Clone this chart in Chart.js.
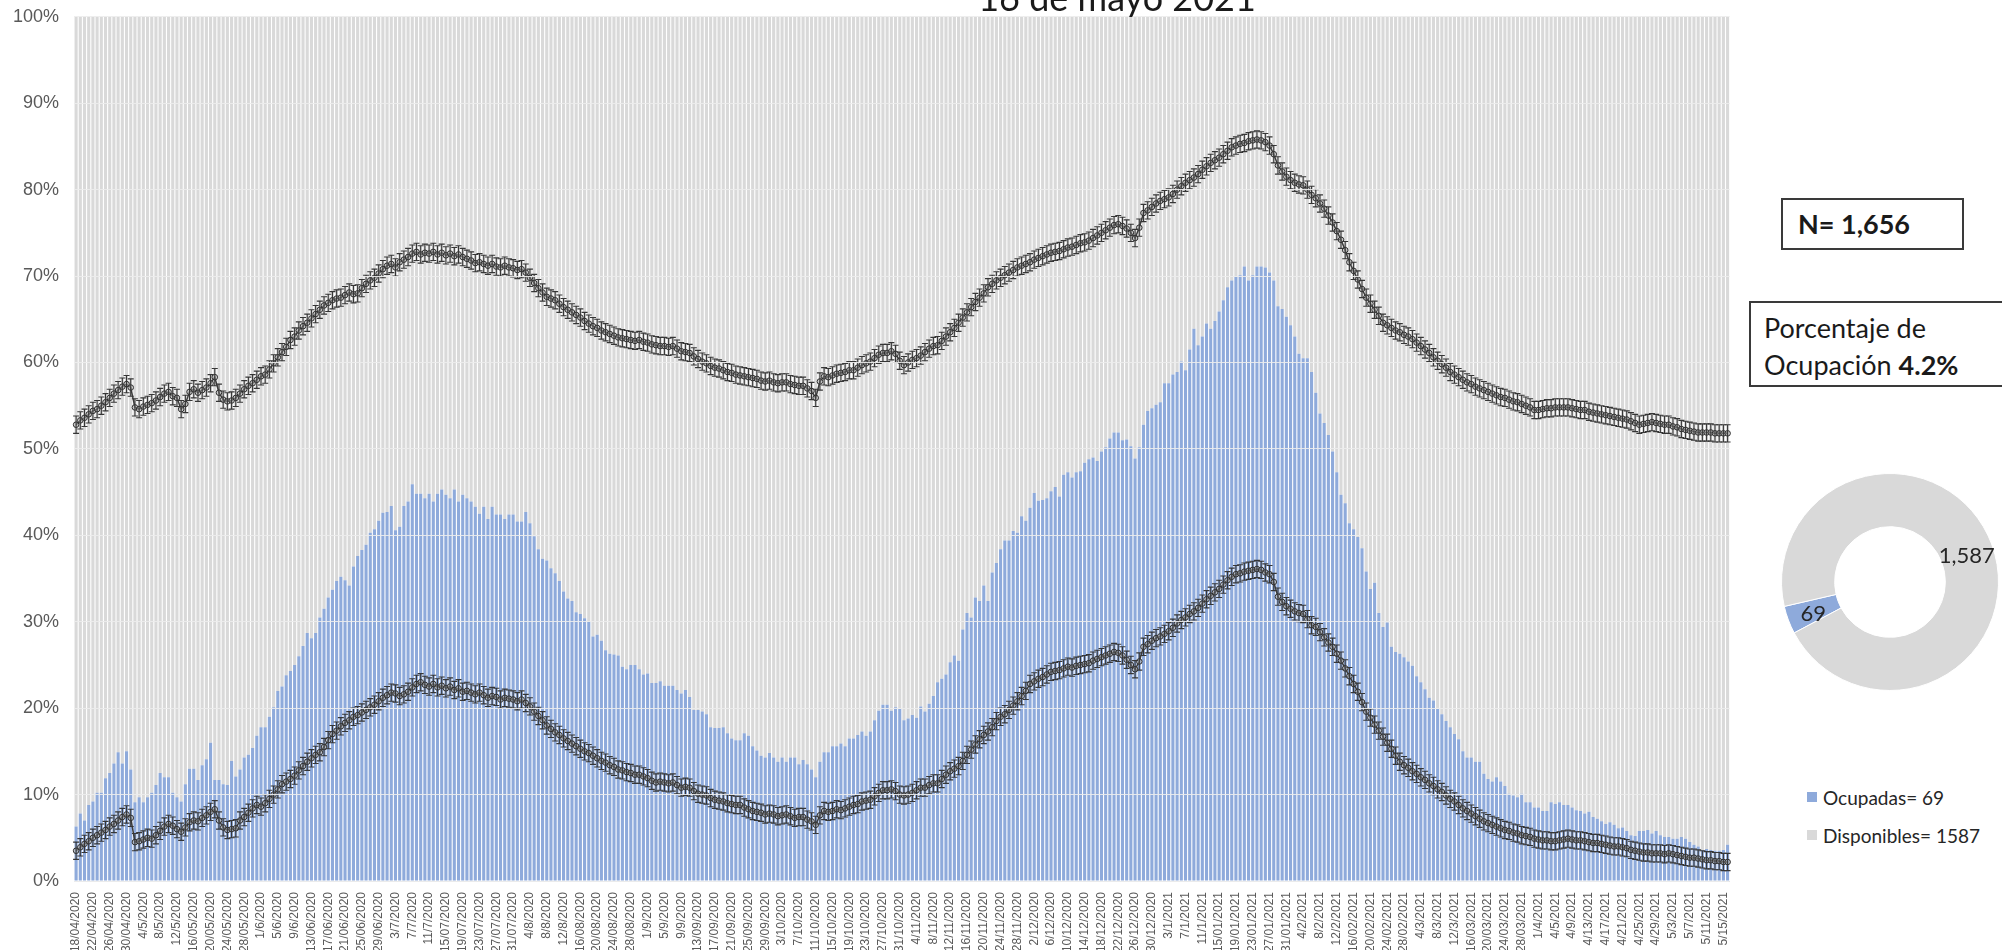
<!DOCTYPE html>
<html lang="es">
<head>
<meta charset="utf-8">
<script src="https://cdn.jsdelivr.net/npm/chart.js@4.4.1/dist/chart.umd.min.js"></script>
<style>
  html, body { margin: 0; padding: 0; background: #fff; }
  body { width: 2002px; height: 950px; position: relative; overflow: hidden; font-family: Lato, "Liberation Sans", sans-serif; color: #1a1a1a; }
  #main { position: absolute; left: 0; top: -9px; }
  #pie { position: absolute; left: 1760px; top: 440px; }
  .title { position: absolute; left: 917px; top: -21px; width: 400px; text-align: center; font-size: 36px; line-height: 36px; color: #1a1a1a; }
  .box { position: absolute; border: 2px solid #3a3a3a; background: #fff; box-sizing: border-box; }
  #nBox { left: 1781px; top: 198px; width: 183px; height: 52px; font-size: 27px; font-weight: 700; line-height: 48px; padding-left: 15px; }
  #pctBox { left: 1749px; top: 301px; width: 270px; height: 86px; font-size: 27px; line-height: 37px; padding: 6px 0 0 13px; }
  .leg { position: absolute; left: 1807px; height: 24px; display: flex; align-items: center; font-size: 19px; color: #262626; }
  .sw { width: 10px; height: 10px; margin-right: 6px; }
</style>
</head>
<body>
<canvas id="main" width="1745" height="959"></canvas>
<div class="title">16 de mayo 2021</div>
<div class="box" id="nBox"></div>
<div class="box" id="pctBox"></div>
<canvas id="pie" width="242" height="290"></canvas>
<div class="leg" id="legOcu" style="top:785px"><span class="sw" style="background:#8eaadb"></span><span></span></div>
<div class="leg" id="legDis" style="top:823px"><span class="sw" style="background:#d9d9d9"></span><span></span></div>
<script>
// -------- DATA --------
// one label every 4 days, first day 18/04/2020
const tickLabels = [
    "18/04/2020", "22/04/2020", "26/04/2020", "30/04/2020", "4/5/2020", "8/5/2020", "12/5/2020", "16/05/2020",
    "20/05/2020", "24/05/2020", "28/05/2020", "1/6/2020", "5/6/2020", "9/6/2020", "13/06/2020", "17/06/2020",
    "21/06/2020", "25/06/2020", "29/06/2020", "3/7/2020", "7/7/2020", "11/7/2020", "15/07/2020", "19/07/2020",
    "23/07/2020", "27/07/2020", "31/07/2020", "4/8/2020", "8/8/2020", "12/8/2020", "16/08/2020", "20/08/2020",
    "24/08/2020", "28/08/2020", "1/9/2020", "5/9/2020", "9/9/2020", "13/09/2020", "17/09/2020", "21/09/2020",
    "25/09/2020", "29/09/2020", "3/10/2020", "7/10/2020", "11/10/2020", "15/10/2020", "19/10/2020", "23/10/2020",
    "27/10/2020", "31/10/2020", "4/11/2020", "8/11/2020", "12/11/2020", "16/11/2020", "20/11/2020", "24/11/2020",
    "28/11/2020", "2/12/2020", "6/12/2020", "10/12/2020", "14/12/2020", "18/12/2020", "22/12/2020", "26/12/2020",
    "30/12/2020", "3/1/2021", "7/1/2021", "11/1/2021", "15/01/2021", "19/01/2021", "23/01/2021", "27/01/2021",
    "31/01/2021", "4/2/2021", "8/2/2021", "12/2/2021", "16/02/2021", "20/02/2021", "24/02/2021", "28/02/2021",
    "4/3/2021", "8/3/2021", "12/3/2021", "16/03/2021", "20/03/2021", "24/03/2021", "28/03/2021", "1/4/2021",
    "4/5/2021", "4/9/2021", "4/13/2021", "4/17/2021", "4/21/2021", "4/25/2021", "4/29/2021", "5/3/2021",
    "5/7/2021", "5/11/2021", "5/15/2021"
];

// % camas ocupadas, daily
const ocupadas = [
    6.3, 7.8, 7.0, 8.8, 9.2, 10.2, 10.2, 11.9, 12.5, 13.6, 14.9, 13.6, 15.0, 12.9,
    9.1, 9.7, 9.1, 9.7, 10.2, 11.1, 12.5, 12.0, 12.0, 10.2,
    9.7, 9.2, 11.2, 13.0, 13.0, 11.7, 13.4, 14.1, 16.0, 11.7,
    11.7, 11.2, 11.1, 13.9, 12.1, 12.9, 14.3, 14.6, 15.4, 16.8,
    17.8, 17.8, 19.0, 20.1, 22.0, 22.5, 23.8, 24.3, 25.0, 26.0,
    27.2, 28.7, 28.1, 28.7, 30.5, 31.5, 32.8, 33.7, 34.7, 35.2,
    34.8, 34.2, 36.4, 37.6, 38.3, 38.9, 40.3, 40.7, 41.7, 42.6,
    42.7, 43.4, 40.6, 41.0, 43.4, 43.9, 45.9, 44.8, 44.8, 44.3,
    44.8, 43.9, 44.8, 45.3, 44.7, 44.3, 45.3, 43.9, 44.7, 44.3,
    43.9, 43.3, 42.5, 43.3, 41.9, 43.3, 42.4, 42.4, 41.9, 42.4,
    42.4, 41.6, 41.6, 42.7, 41.4, 39.9, 38.4, 37.3, 37.1, 36.2,
    35.6, 34.7, 33.5, 32.7, 32.4, 31.1, 30.9, 30.4, 30.0, 28.3,
    28.5, 27.8, 26.7, 26.3, 26.2, 26.1, 24.8, 24.5, 25.0, 25.0,
    24.5, 23.9, 24.0, 22.9, 22.9, 23.1, 22.6, 22.6, 22.6, 22.1,
    21.7, 22.1, 21.3, 19.8, 19.8, 19.6, 19.3, 17.8, 17.7, 17.7,
    17.8, 17.1, 16.5, 16.3, 16.3, 17.1, 16.8, 15.6, 15.1, 14.5,
    14.3, 14.8, 14.3, 13.8, 14.3, 13.8, 14.3, 14.3, 13.5, 14.0,
    13.5, 12.9, 12.0, 13.8, 14.9, 14.9, 15.6, 15.6, 15.9, 15.6,
    16.5, 16.5, 16.9, 17.3, 16.8, 17.3, 18.6, 19.7, 20.4, 20.4,
    19.7, 20.1, 19.9, 18.6, 18.8, 19.2, 18.9, 20.2, 19.6, 20.5,
    21.4, 23.0, 23.4, 23.9, 25.3, 26.1, 25.5, 29.1, 31.0, 30.5,
    32.8, 32.4, 34.2, 32.4, 35.7, 36.8, 38.4, 39.4, 39.4, 40.5,
    40.3, 42.2, 41.7, 43.2, 44.9, 44.0, 44.1, 44.3, 45.1, 45.6,
    44.5, 47.0, 47.3, 46.7, 47.3, 47.4, 48.4, 48.8, 49.0, 48.6,
    49.7, 50.2, 51.2, 51.9, 51.9, 51.0, 51.1, 50.3, 48.9, 50.2,
    52.8, 54.4, 54.7, 55.1, 55.4, 57.6, 57.6, 58.6, 58.9, 60.1,
    59.1, 61.5, 63.9, 62.0, 63.0, 64.5, 63.9, 64.8, 65.9, 67.2,
    68.7, 69.5, 69.9, 70.1, 71.1, 69.5, 70.1, 71.1, 71.1, 71.0,
    70.4, 69.5, 66.5, 66.2, 65.3, 64.3, 63.0, 61.0, 60.5, 60.5,
    58.9, 56.5, 54.1, 53.0, 51.6, 49.7, 47.3, 44.7, 43.7, 41.4,
    40.7, 39.8, 38.5, 35.8, 33.8, 34.5, 31.0, 29.4, 29.9, 27.1,
    26.5, 26.3, 25.9, 25.4, 24.9, 23.7, 23.0, 22.2, 21.2, 20.9,
    19.9, 19.3, 18.5, 17.8, 17.0, 16.4, 15.0, 14.3, 14.3, 13.8,
    13.8, 12.4, 11.8, 11.5, 12.0, 11.5, 11.0, 10.1, 9.9, 9.7,
    10.1, 9.1, 9.1, 8.5, 8.5, 8.1, 8.1, 9.1, 8.9, 9.1,
    8.8, 8.8, 8.5, 8.2, 8.1, 7.8, 8.0, 7.4, 7.2, 6.9,
    6.6, 6.8, 6.5, 6.1, 6.2, 5.8, 5.3, 5.2, 5.8, 5.8,
    5.9, 5.5, 5.8, 5.3, 5.1, 5.1, 4.9, 4.9, 5.1, 4.9,
    4.5, 4.2, 4.0, 3.6, 3.7, 3.6, 3.5, 3.5, 3.6, 4.2
];

// upper curve with error bars (%)
const bandaSuperior = [
    52.8, 53.3, 53.6, 54.0, 54.4, 54.6, 55.0, 55.4, 55.9, 56.4, 56.8, 57.2, 57.5, 57.1,
    54.8, 54.6, 54.9, 55.1, 55.3, 55.6, 56.0, 56.4, 56.6, 56.1,
    55.9, 54.6, 55.2, 56.6, 56.9, 56.5, 56.8, 57.1, 57.6, 58.3,
    56.5, 55.7, 55.5, 55.6, 55.9, 56.4, 56.9, 57.3, 57.6, 58.0,
    58.4, 58.6, 59.2, 59.9, 60.6, 61.2, 61.8, 62.6, 63.0, 63.7,
    64.2, 64.6, 65.1, 65.6, 66.1, 66.6, 66.9, 67.2, 67.4, 67.5,
    67.8, 68.1, 67.9, 68.0, 68.6, 69.1, 69.5, 69.8, 70.3, 70.8,
    71.2, 71.4, 71.0, 71.6, 71.9, 72.2, 72.6, 72.8, 72.5, 72.7,
    72.6, 72.8, 72.5, 72.7, 72.4, 72.6, 72.3, 72.5, 72.2, 72.0,
    71.8, 71.5, 71.6, 71.4, 71.2, 71.4, 71.1, 71.0, 71.2, 71.0,
    70.9, 70.7, 70.8, 70.4, 69.8, 69.2, 68.6, 68.1, 67.6, 67.4,
    67.2, 66.8, 66.4, 66.1, 65.8, 65.5, 65.2, 64.8, 64.5, 64.2,
    64.0, 63.7, 63.5, 63.3, 63.1, 62.9, 62.8, 62.7, 62.6, 62.5,
    62.6, 62.4, 62.3, 62.1, 62.0, 61.9, 61.9, 61.8, 61.9, 61.6,
    61.3, 61.2, 61.1, 60.7, 60.4, 60.1, 59.9, 59.6, 59.4, 59.3,
    59.1, 58.9, 58.8, 58.6, 58.5, 58.4, 58.3, 58.2, 58.1, 57.9,
    57.8, 57.9, 57.7, 57.6, 57.7, 57.7, 57.5, 57.4, 57.3, 57.3,
    57.0, 56.7, 55.9, 57.8, 58.4, 58.3, 58.5, 58.7, 58.8, 58.9,
    59.1, 59.1, 59.4, 59.7, 59.9, 60.1, 60.5, 60.9, 61.1, 61.1,
    61.3, 61.0, 60.2, 59.7, 60.0, 60.3, 60.5, 60.8, 61.2, 61.6,
    61.9, 62.0, 62.5, 63.0, 63.5, 64.0, 64.6, 65.2, 65.8, 66.4,
    67.0, 67.5, 68.0, 68.7, 69.1, 69.5, 69.8, 70.1, 70.4, 70.7,
    71.0, 71.2, 71.4, 71.6, 71.9, 72.1, 72.3, 72.5, 72.7, 72.8,
    72.9, 73.1, 73.3, 73.4, 73.6, 73.8, 73.9, 74.1, 74.4, 74.7,
    75.0, 75.3, 75.6, 75.9, 76.0, 75.8, 75.5, 75.0, 74.4, 75.6,
    77.3, 77.6, 78.0, 78.4, 78.7, 78.9, 79.1, 79.5, 80.0, 80.4,
    80.8, 81.1, 81.4, 81.8, 82.3, 82.7, 83.1, 83.4, 83.7, 84.1,
    84.5, 84.9, 85.1, 85.3, 85.4, 85.6, 85.7, 85.8, 85.7, 85.5,
    85.1, 84.1, 82.8, 82.1, 81.5, 81.1, 80.8, 80.6, 80.5, 80.0,
    79.4, 79.0, 78.4, 77.8, 77.0, 76.2, 75.2, 74.2, 73.0, 71.6,
    70.6, 69.6, 68.5, 67.5, 66.8, 66.1, 65.4, 64.6, 64.3, 64.0,
    63.7, 63.5, 63.2, 63.0, 62.7, 62.3, 61.9, 61.5, 61.1, 60.6,
    60.2, 59.8, 59.4, 58.9, 58.6, 58.3, 58.0, 57.7, 57.5, 57.2,
    57.0, 56.8, 56.6, 56.4, 56.2, 56.0, 55.9, 55.7, 55.5, 55.4,
    55.2, 55.0, 54.8, 54.5, 54.5, 54.6, 54.7, 54.7, 54.8, 54.8,
    54.8, 54.8, 54.7, 54.6, 54.5, 54.5, 54.3, 54.2, 54.1, 54.0,
    53.9, 53.8, 53.7, 53.6, 53.5, 53.4, 53.2, 53.0, 52.8, 52.9,
    53.0, 53.1, 53.0, 52.9, 52.8, 52.8, 52.6, 52.5, 52.3, 52.2,
    52.1, 52.0, 51.9, 51.9, 51.9, 51.9, 51.8, 51.8, 51.8, 51.8
];

// lower curve with error bars (%)
const bandaInferior = [
    3.5, 3.9, 4.3, 4.6, 5.0, 5.3, 5.6, 5.9, 6.3, 6.6, 7.0, 7.4, 7.7, 7.3,
    4.5, 4.6, 4.8, 5.0, 4.9, 5.3, 5.8, 6.3, 6.6, 6.4,
    6.0, 5.7, 6.2, 6.8, 7.0, 6.9, 7.3, 7.6, 8.0, 8.3,
    7.0, 6.2, 5.9, 6.0, 6.1, 7.0, 7.4, 7.9, 8.4, 8.8,
    8.6, 9.0, 9.5, 10.0, 10.6, 11.2, 11.5, 11.8, 12.2, 12.8,
    13.3, 13.8, 14.2, 14.6, 14.9, 15.5, 16.3, 17.0, 17.4, 17.9,
    18.3, 18.6, 19.0, 19.2, 19.5, 19.8, 20.1, 20.4, 20.8, 21.2,
    21.5, 21.8, 21.7, 21.4, 21.6, 21.9, 22.4, 22.8, 23.0, 22.7,
    22.5, 22.8, 22.4, 22.6, 22.3, 22.5, 22.1, 22.3, 21.9, 22.0,
    21.8, 21.6, 21.8, 21.5, 21.2, 21.4, 21.3, 21.0, 21.2, 21.1,
    21.0, 20.8, 21.0, 20.6, 20.2, 19.6, 19.1, 18.6, 18.0, 17.6,
    17.2, 16.9, 16.5, 16.2, 15.9, 15.6, 15.3, 15.0, 14.8, 14.5,
    14.2, 13.9, 13.7, 13.4, 13.2, 12.9, 12.8, 12.6, 12.5, 12.3,
    12.3, 12.1, 11.9, 11.6, 11.4, 11.5, 11.4, 11.3, 11.4, 11.1,
    10.8, 10.9, 10.8, 10.4, 10.1, 10.0, 9.9, 9.6, 9.4, 9.3,
    9.2, 9.0, 8.9, 8.8, 8.8, 8.5, 8.3, 8.1, 8.0, 7.9,
    7.7, 7.8, 7.7, 7.5, 7.6, 7.7, 7.5, 7.3, 7.4, 7.4,
    7.1, 6.9, 6.5, 7.6, 8.1, 8.0, 8.1, 8.3, 8.2, 8.4,
    8.6, 8.8, 8.9, 9.2, 9.3, 9.4, 9.8, 10.2, 10.5, 10.5,
    10.6, 10.4, 10.0, 9.9, 10.0, 10.2, 10.5, 10.8, 10.8, 11.1,
    11.3, 11.3, 11.8, 12.3, 12.7, 13.0, 13.3, 13.9, 14.6, 15.2,
    15.8, 16.4, 16.9, 17.3, 17.8, 18.5, 19.0, 19.3, 19.8, 20.3,
    20.8, 21.4, 22.0, 22.8, 23.1, 23.4, 23.6, 23.9, 24.2, 24.3,
    24.4, 24.6, 24.8, 24.7, 24.9, 25.0, 25.1, 25.2, 25.5, 25.7,
    25.9, 26.1, 26.3, 26.5, 26.4, 26.1, 25.6, 25.0, 24.5, 25.4,
    27.1, 27.4, 27.8, 28.1, 28.3, 28.6, 28.9, 29.3, 29.8, 30.2,
    30.5, 30.9, 31.2, 31.6, 32.1, 32.6, 33.0, 33.4, 33.8, 34.3,
    34.8, 35.2, 35.5, 35.6, 35.8, 35.9, 36.0, 36.1, 36.0, 35.7,
    35.5, 34.6, 32.9, 32.3, 31.8, 31.5, 31.2, 31.0, 30.9, 30.3,
    29.6, 29.4, 28.8, 28.2, 27.6, 27.1, 26.3, 25.5, 24.6, 23.7,
    22.8, 21.9, 20.7, 19.6, 18.9, 18.1, 17.4, 16.7, 16.0, 15.3,
    14.5, 13.8, 13.4, 13.1, 12.7, 12.4, 12.0, 11.7, 11.3, 11.0,
    10.6, 10.3, 9.9, 9.5, 9.2, 8.8, 8.4, 8.1, 7.8, 7.5,
    7.2, 6.9, 6.7, 6.5, 6.3, 6.1, 5.9, 5.8, 5.6, 5.5,
    5.3, 5.2, 5.1, 4.9, 4.8, 4.7, 4.7, 4.6, 4.6, 4.7,
    4.8, 4.9, 4.8, 4.7, 4.7, 4.6, 4.5, 4.4, 4.4, 4.3,
    4.2, 4.1, 4.0, 4.0, 3.9, 3.8, 3.6, 3.5, 3.4, 3.3,
    3.3, 3.2, 3.2, 3.2, 3.1, 3.2, 3.1, 3.0, 2.9, 2.8,
    2.7, 2.7, 2.6, 2.5, 2.4, 2.4, 2.3, 2.3, 2.2, 2.2
];

// beds on 16 May 2021
const camasOcupadas = 69;
const camasDisponibles = 1587;

// -------- COLOURS --------
const AZUL = "#8eaadb";
const GRIS = "#d9d9d9";

const dias = ocupadas.map((_, i) => i);
const disponibles = ocupadas.map(v => +(100 - v).toFixed(1));

// -------- ERROR BARS --------
const errorBars = {
    id: "errorBars",
    afterDatasetsDraw(chart) {
        const ctx = chart.ctx;
        const y = chart.scales.y2;
        chart.data.datasets.forEach((ds, i) => {
            if (!ds.errorBar) return;
            const meta = chart.getDatasetMeta(i);
            ctx.save();
            ctx.strokeStyle = "#363636";
            ctx.lineWidth = 1.1;
            meta.data.forEach((pt, j) => {
                const v = ds.data[j];
                const top = y.getPixelForValue(v + ds.errorBar);
                const bot = y.getPixelForValue(v - ds.errorBar);
                ctx.beginPath();
                ctx.moveTo(pt.x, top); ctx.lineTo(pt.x, bot);
                ctx.moveTo(pt.x - 3, top); ctx.lineTo(pt.x + 3, top);
                ctx.moveTo(pt.x - 3, bot); ctx.lineTo(pt.x + 3, bot);
                ctx.stroke();
            });
            ctx.restore();
        });
    }
};

const lineStyle = {
    type: "line",
    yAxisID: "y2",
    borderColor: "#3c3c3c",
    borderWidth: 1.5,
    pointRadius: 2.8,
    pointBorderWidth: 1,
    pointBorderColor: "#2e2e2e",
    pointBackgroundColor: "rgba(170,170,170,0.5)",
    errorBar: 1.0,
    order: 0
};

// -------- MAIN CHART --------
new Chart(document.getElementById("main"), {
    type: "bar",
    data: {
        labels: dias,
        datasets: [
            { ...lineStyle, label: "Curva superior", data: bandaSuperior },
            { ...lineStyle, label: "Curva inferior", data: bandaInferior },
            { label: "Ocupadas", data: ocupadas, backgroundColor: AZUL, order: 1 },
            { label: "Disponibles", data: disponibles, backgroundColor: GRIS, order: 1 }
        ]
    },
    options: {
        responsive: false,
        animation: false,
        layout: { padding: { top: 6, right: 4 } },
        plugins: { legend: { display: false }, tooltip: { enabled: false } },
        datasets: { bar: { categoryPercentage: 1, barPercentage: 0.74 } },
        scales: {
            x: {
                stacked: true,
                grid: { display: false },
                border: { color: "#d9d9d9" },
                ticks: {
                    autoSkip: false,
                    maxRotation: 90,
                    minRotation: 90,
                    color: "#595959",
                    font: { size: 12 },
                    padding: 3,
                    callback: (v, i) => (i % 4 === 0 ? tickLabels[i / 4] : "")
                },
                afterFit: s => { s.height = 69; }
            },
            y: {
                stacked: true,
                min: 0,
                max: 100,
                ticks: {
                    stepSize: 10,
                    callback: v => v + "%",
                    color: "#595959",
                    font: { size: 18 },
                    padding: 15
                },
                grid: { color: "rgba(236,236,236,0.9)", drawTicks: false, z: 1 },
                border: { display: false },
                afterFit: s => { s.width = 74; }
            },
            y2: { display: false, min: 0, max: 100 }
        }
    },
    plugins: [errorBars]
});

// -------- DOUGHNUT --------
const sliceLabels = {
    id: "sliceLabels",
    afterDatasetsDraw(chart) {
        const ctx = chart.ctx;
        const ds = chart.data.datasets[0];
        ctx.save();
        ctx.font = "22px Lato, sans-serif";
        ctx.fillStyle = "#262626";
        ctx.textAlign = "center";
        ctx.textBaseline = "middle";
        chart.getDatasetMeta(0).data.forEach((arc, i) => {
            const p = arc.getCenterPoint();
            ctx.fillText(ds.data[i].toLocaleString("en-US"), p.x, p.y + 3);
        });
        ctx.restore();
    }
};

new Chart(document.getElementById("pie"), {
    type: "doughnut",
    data: {
        labels: ["Ocupadas", "Disponibles"],
        datasets: [{
            data: [camasOcupadas, camasDisponibles],
            backgroundColor: [AZUL, GRIS],
            borderColor: "#fff",
            borderWidth: 1
        }]
    },
    options: {
        responsive: false,
        animation: false,
        rotation: 242,
        cutout: "51%",
        layout: { padding: { left: 21, right: 3, top: 33, bottom: 39 } },
        plugins: { legend: { display: false }, tooltip: { enabled: false } }
    },
    plugins: [sliceLabels]
});

// -------- TEXT BOXES --------
const total = camasOcupadas + camasDisponibles;
const pct = (camasOcupadas / total * 100).toFixed(1);
document.getElementById("nBox").textContent = "N= " + total.toLocaleString("en-US");
document.getElementById("pctBox").innerHTML = "Porcentaje de<br>Ocupación <b>" + pct + "%</b>";
document.querySelector("#legOcu span:last-child").textContent = "Ocupadas= " + camasOcupadas;
document.querySelector("#legDis span:last-child").textContent = "Disponibles= " + camasDisponibles;
</script>
</body>
</html>
